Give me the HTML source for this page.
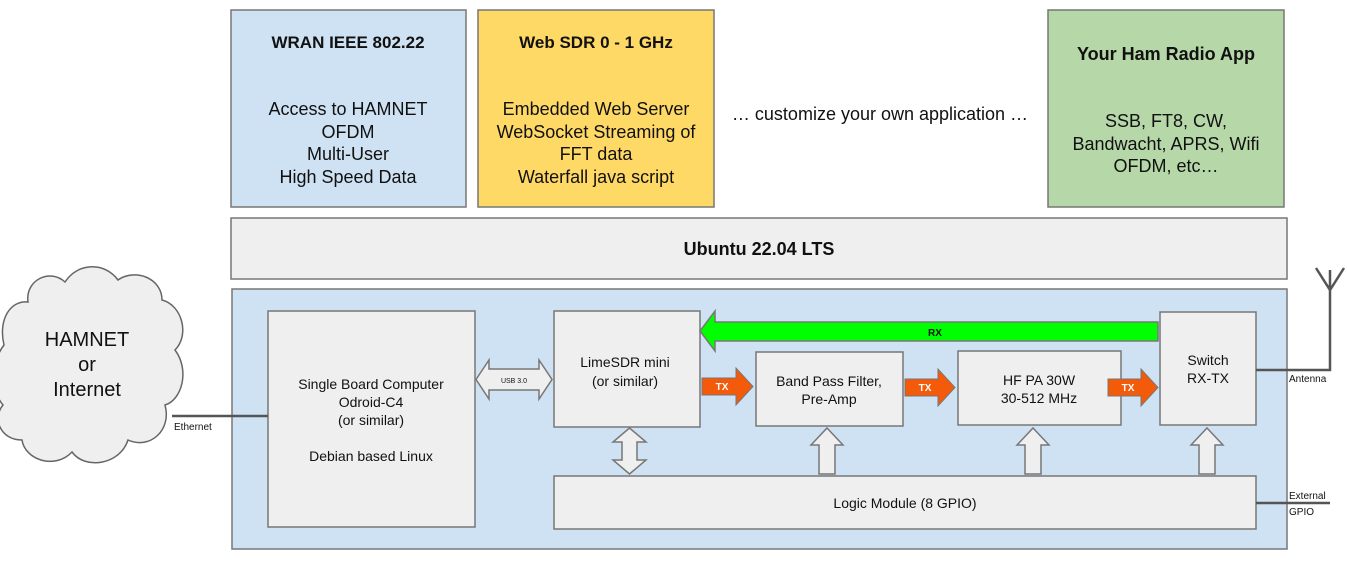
<!DOCTYPE html>
<html><head><style>
body{margin:0;background:#fff}
svg text{font-family:"Liberation Sans",Arial,sans-serif}
</style></head><body>
<svg width="1347" height="557" viewBox="0 0 1347 557" xmlns="http://www.w3.org/2000/svg">
<g stroke="#777" stroke-width="1.5">
<rect x="231" y="10" width="235" height="197" fill="#cfe2f3"/>
<rect x="478" y="10" width="236" height="197" fill="#ffd966"/>
<rect x="1048" y="10" width="236" height="197" fill="#b6d7a8"/>
<rect x="231" y="218" width="1056" height="61" fill="#efefef"/>
<rect x="232" y="289" width="1055" height="260" fill="#cfe2f3"/>
<rect x="268" y="311" width="207" height="216" fill="#efefef"/>
<rect x="554" y="311" width="146" height="116" fill="#efefef"/>
<rect x="554" y="476" width="702" height="53" fill="#efefef"/>
<rect x="756" y="352" width="147" height="74" fill="#efefef"/>
<rect x="958" y="351" width="163" height="74" fill="#efefef"/>
<rect x="1160" y="312" width="96" height="113" fill="#efefef"/>
<path d="M1158 322 H715 V311 L700 331 L715 351 V341 H1158 Z" fill="#00ff00"/>
<path d="M476 379.5 L489 360 V369 H539 V360 L552 379.5 L539 399 V390 H489 V399 Z" fill="#efefef"/>
<path d="M629.5 428 L646 442 H637 V460 H646 L629.5 474 L613 460 H622 V442 H613 Z" fill="#efefef"/>
<path d="M827 428 L843 445 H835 V474 H819 V445 H811 Z" fill="#efefef"/>
<path d="M1033 428 L1049 445 H1041 V474 H1025 V445 H1017 Z" fill="#efefef"/>
<path d="M1207 428 L1223 445 H1215 V474 H1199 V445 H1191 Z" fill="#efefef"/>
<path d="M4 345 C-2 320 10 300 28 302 C25 280 50 268 65 282 C78 262 105 262 118 280 C135 268 162 278 162 300 C182 305 190 335 175 350 C190 370 182 400 165 405 C172 430 150 450 128 440 C120 465 85 470 72 452 C55 470 25 460 22 440 C0 440 -8 418 3 405 C-10 390 -8 360 4 345 Z" fill="#efefef" stroke="#666"/>
</g>
<g fill="#f35a0a" stroke="#777" stroke-width="1">
<path d="M702 378 H736 V368 L753 386.5 L736 405 V395 H702 Z"/>
<path d="M905 379 H938 V369 L955 387.5 L938 406 V396 H905 Z"/>
<path d="M1108 379 H1141 V369 L1158 387.5 L1141 406 V396 H1108 Z"/>
</g>
<g stroke="#555" stroke-width="2.5" fill="none">
<path d="M172 416 H268"/>
<path d="M1256 370 H1330 V270 M1316 268 L1330 290 L1344 268"/>
<path d="M1256 503 H1330"/>
</g>
<g text-anchor="middle" font-size="18" fill="#111">
<text x="348" y="48" font-weight="bold" font-size="17">WRAN IEEE 802.22</text>
<text x="348" y="115">Access to HAMNET</text>
<text x="348" y="138">OFDM</text>
<text x="348" y="160">Multi-User</text>
<text x="348" y="183">High Speed Data</text>
<text x="596" y="48" font-weight="bold" font-size="17">Web SDR 0 - 1 GHz</text>
<text x="596" y="115">Embedded Web Server</text>
<text x="596" y="138">WebSocket Streaming of</text>
<text x="596" y="160">FFT data</text>
<text x="596" y="183">Waterfall java script</text>
<text x="880" y="120">… customize your own application …</text>
<text x="1166" y="60" font-weight="bold">Your Ham Radio App</text>
<text x="1166" y="127">SSB, FT8, CW,</text>
<text x="1166" y="150">Bandwacht, APRS, Wifi</text>
<text x="1166" y="172">OFDM, etc…</text>
<text x="759" y="255" font-weight="bold">Ubuntu 22.04 LTS</text>
<text x="87" y="346" font-size="20">HAMNET</text>
<text x="87" y="371" font-size="20">or</text>
<text x="87" y="396" font-size="20">Internet</text>
<g font-size="14">
<text x="371" y="389">Single Board Computer</text>
<text x="371" y="407">Odroid-C4</text>
<text x="371" y="425">(or similar)</text>
<text x="371" y="461">Debian based Linux</text>
<text x="625" y="367">LimeSDR mini</text>
<text x="625" y="386">(or similar)</text>
<text x="829" y="386">Band Pass Filter,</text>
<text x="829" y="404">Pre-Amp</text>
<text x="1039" y="385">HF PA 30W</text>
<text x="1039" y="403">30-512 MHz</text>
<text x="1208" y="365">Switch</text>
<text x="1208" y="383">RX-TX</text>
<text x="905" y="508">Logic Module (8 GPIO)</text>
</g>
<text x="514" y="383" font-size="7">USB 3.0</text>
<g font-size="10" font-weight="bold">
<text x="935" y="336">RX</text>
<text x="722" y="390" fill="#fff">TX</text>
<text x="925" y="391" fill="#fff">TX</text>
<text x="1128" y="391" fill="#fff">TX</text>
</g>
</g>
<g font-size="10" fill="#111">
<text x="174" y="430">Ethernet</text>
<text x="1289" y="382">Antenna</text>
<text x="1289" y="499">External</text>
<text x="1289" y="515">GPIO</text>
</g>
</svg>
</body></html>
